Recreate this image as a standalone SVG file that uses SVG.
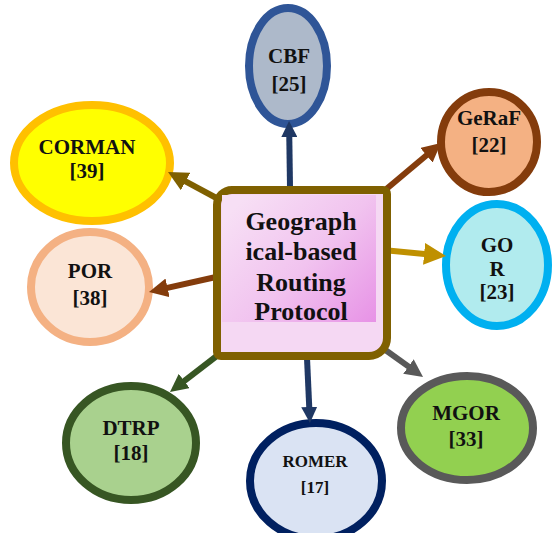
<svg xmlns="http://www.w3.org/2000/svg" width="554" height="533" viewBox="0 0 554 533">
  <style>
    .node { stroke-width: 8; }
    .lbl { font-family: "Liberation Serif", "Times New Roman", serif; font-weight: bold; font-size: 21px; fill: #111111; text-anchor: middle; }
    .small { font-size: 17px; }
    .hub { font-family: "Liberation Serif", "Times New Roman", serif; font-weight: bold; font-size: 26px; fill: #111111; text-anchor: middle; }
    .conn { stroke-width: 6; fill: none; stroke-linecap: butt; }
  </style>
  <defs>
    <linearGradient id="hubGrad" x1="0" y1="0.2" x2="1" y2="1">
      <stop offset="0" stop-color="#f7dff5"/>
      <stop offset="0.5" stop-color="#f1c3ef"/>
      <stop offset="1" stop-color="#e792e6"/>
    </linearGradient>
    <marker id="hNavy" viewBox="0 0 16 16" markerUnits="userSpaceOnUse" markerWidth="16" markerHeight="16" refX="6" refY="8" orient="auto"><path d="M0,0 L16,8 L0,16 z" fill="#1f3864"/></marker>
    <marker id="hRust" viewBox="0 0 16 16" markerUnits="userSpaceOnUse" markerWidth="19" markerHeight="19" refX="6" refY="8" orient="auto"><path d="M0,0 L16,8 L0,16 z" fill="#843c0c"/></marker>
    <marker id="hGold" viewBox="0 0 16 16" markerUnits="userSpaceOnUse" markerWidth="22" markerHeight="22" refX="6" refY="8" orient="auto"><path d="M0,0 L16,8 L0,16 z" fill="#bf9000"/></marker>
    <marker id="hGrey" viewBox="0 0 16 16" markerUnits="userSpaceOnUse" markerWidth="18" markerHeight="18" refX="6" refY="8" orient="auto"><path d="M0,0 L16,8 L0,16 z" fill="#595959"/></marker>
    <marker id="hGreen" viewBox="0 0 16 16" markerUnits="userSpaceOnUse" markerWidth="18" markerHeight="18" refX="6" refY="8" orient="auto"><path d="M0,0 L16,8 L0,16 z" fill="#375623"/></marker>
    <marker id="hOlive" viewBox="0 0 16 16" markerUnits="userSpaceOnUse" markerWidth="20" markerHeight="20" refX="6" refY="8" orient="auto"><path d="M0,0 L16,8 L0,16 z" fill="#7f6000"/></marker>
  </defs>

  <rect width="554" height="533" fill="#ffffff"/>

  <!-- surrounding protocol nodes -->
  <g id="cbf">
    <ellipse class="node" cx="288" cy="66" rx="39" ry="58" fill="#adb9ca" stroke="#2f5597" stroke-width="7"/>
    <text class="lbl" x="289" y="63">CBF</text>
    <text class="lbl" x="289" y="91">[25]</text>
  </g>
  <g id="geraf">
    <ellipse class="node" cx="489" cy="142" rx="48" ry="50" fill="#f4b183" stroke="#843c0c"/>
    <text class="lbl" x="489" y="125">GeRaF</text>
    <text class="lbl" x="489" y="152">[22]</text>
  </g>
  <g id="gor">
    <ellipse class="node" cx="497" cy="265" rx="51" ry="61" fill="#b1ebee" stroke="#00b0f0"/>
    <text class="lbl" x="497" y="252">GO</text>
    <text class="lbl" x="497" y="276">R</text>
    <text class="lbl" x="497" y="299">[23]</text>
  </g>
  <g id="mgor">
    <ellipse class="node" cx="467" cy="428" rx="66" ry="52" fill="#92d050" stroke="#595959"/>
    <text class="lbl" x="466" y="420">MGOR</text>
    <text class="lbl" x="466" y="446">[33]</text>
  </g>
  <g id="romer">
    <ellipse class="node" cx="316" cy="481" rx="66" ry="58" fill="#dae3f3" stroke="#002060"/>
    <text class="lbl small" x="315" y="467">ROMER</text>
    <text class="lbl small" x="315" y="493">[17]</text>
  </g>
  <g id="dtrp">
    <ellipse class="node" cx="131" cy="443" rx="65" ry="57" fill="#a9d18e" stroke="#375623"/>
    <text class="lbl" x="131" y="435">DTRP</text>
    <text class="lbl" x="131" y="460">[18]</text>
  </g>
  <g id="por">
    <ellipse class="node" cx="90" cy="287" rx="59" ry="55" fill="#fbe5d6" stroke="#f4b183"/>
    <text class="lbl" x="90" y="278">POR</text>
    <text class="lbl" x="90" y="305">[38]</text>
  </g>
  <g id="corman">
    <ellipse class="node" cx="92" cy="163" rx="78" ry="58" fill="#ffff00" stroke="#ffc000"/>
    <text class="lbl" x="87" y="154">CORMAN</text>
    <text class="lbl" x="87" y="178">[39]</text>
  </g>

  <!-- arrows from the hub out to each protocol -->
  <g id="connectors">
    <path class="conn" d="M290,187 L289.2,131" stroke="#1f3864" marker-end="url(#hNavy)"/>
    <path class="conn" d="M384,191 L431.9,150.7" stroke="#843c0c" marker-end="url(#hRust)"/>
    <path class="conn" d="M388,250.5 L432.3,254.7" stroke="#bf9000" stroke-width="8" marker-end="url(#hGold)"/>
    <path class="conn" d="M384,349 L413.9,370.4" stroke="#595959" marker-end="url(#hGrey)"/>
    <path class="conn" d="M307,358 L309.5,413" stroke="#1f3864" marker-end="url(#hNavy)"/>
    <path class="conn" d="M218,355 L178.9,385.1" stroke="#375623" marker-end="url(#hGreen)"/>
    <path class="conn" d="M216,277 L160.6,289.4" stroke="#843c0c" marker-end="url(#hRust)"/>
    <path class="conn" d="M222,201 L179,177.9" stroke="#7f6000" stroke-width="6.5" marker-end="url(#hOlive)"/>
  </g>

  <!-- central hub -->
  <g id="hub">
    <path d="M232,190 H383 A4,4 0 0 1 387,194 V338 A18,18 0 0 1 369,356 H221 A4,4 0 0 1 217,352 V205 A15,15 0 0 1 232,190 Z" fill="#f5d8f3" stroke="#7f6000" stroke-width="8"/>
    <rect x="222" y="195" width="154" height="127" fill="url(#hubGrad)"/>
    <text class="hub" x="301" y="230">Geograph</text>
    <text class="hub" x="301" y="260">ical-based</text>
    <text class="hub" x="301" y="291">Routing</text>
    <text class="hub" x="301" y="320">Protocol</text>
  </g>
</svg>
